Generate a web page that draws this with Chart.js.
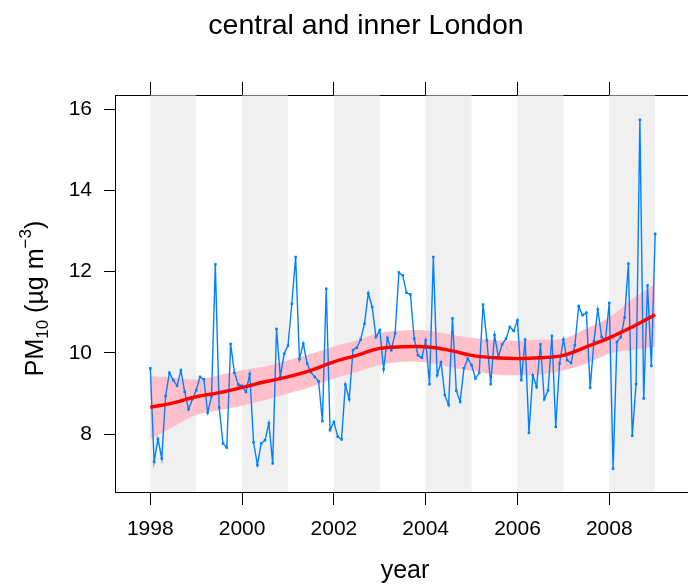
<!DOCTYPE html>
<html>
<head>
<meta charset="utf-8">
<script src="https://cdn.jsdelivr.net/npm/chart.js@4"></script>
<style>
  html, body { margin: 0; padding: 0; background: #fff; }
  #wrap { width: 688px; height: 586px; }
</style>
</head>
<body>
<div id="wrap"><canvas id="chart" width="688" height="586"></canvas></div>
<script>
// monthly mean PM10, Jan 1998 .. Jan 2009
const startYear = 1998;
const pm10Monthly = [
  9.62, 7.32, 7.88, 7.40, 8.94, 9.51, 9.33, 9.19, 9.57, 9.04, 8.61, 8.86,
  9.08, 9.41, 9.35, 8.53, 8.92, 12.18, 8.66, 7.77, 7.67, 10.22, 9.51, 9.22,
  9.19, 9.04, 9.48, 7.80, 7.24, 7.77, 7.85, 8.27, 7.28, 10.59, 9.41, 9.98,
  10.18, 11.21, 12.36, 9.85, 10.23, 9.74, 9.52, 9.41, 9.30, 8.32, 11.58, 8.10,
  8.30, 7.94, 7.87, 9.22, 8.86, 10.07, 10.13, 10.33, 10.72, 11.47, 11.13, 10.39,
  10.56, 9.60, 10.37, 10.07, 10.48, 11.98, 11.91, 11.48, 11.44, 10.35, 9.94, 9.88,
  10.31, 9.23, 12.36, 9.45, 9.77, 8.96, 8.72, 10.85, 9.07, 8.80, 9.62, 9.86,
  9.70, 9.37, 9.51, 11.19, 10.31, 9.23, 10.44, 9.90, 10.21, 10.35, 10.64, 10.54,
  10.80, 9.33, 10.33, 8.03, 9.45, 9.16, 10.21, 8.86, 9.08, 10.42, 8.18, 9.74,
  10.33, 9.82, 9.75, 10.19, 11.15, 10.93, 10.99, 9.14, 10.29, 11.07, 10.39, 10.33,
  11.23, 7.15, 10.27, 10.39, 10.87, 12.20, 7.96, 9.23, 15.74, 8.88, 11.66, 9.68,
  12.93
];

// smooth trend and its confidence band, read every half year
const trendYears = [1998, 1998.5, 1999, 1999.5, 2000, 2000.5, 2001, 2001.5, 2002, 2002.5,
  2003, 2003.5, 2004, 2004.5, 2005, 2005.5, 2006, 2006.5, 2007, 2007.5, 2008, 2008.5, 2009];
const trendFit = [8.66, 8.77, 8.92, 9.02, 9.15, 9.29, 9.41, 9.57, 9.78, 9.94,
  10.11, 10.15, 10.15, 10.07, 9.94, 9.88, 9.86, 9.88, 9.94, 10.15, 10.37, 10.64, 10.94];
const trendUpper = [9.43, 9.39, 9.35, 9.45, 9.57, 9.67, 9.82, 9.98, 10.16, 10.31,
  10.49, 10.55, 10.55, 10.46, 10.37, 10.31, 10.30, 10.33, 10.35, 10.60, 10.88, 11.32, 11.70];
const trendLower = [7.87, 8.18, 8.47, 8.59, 8.70, 8.84, 9.00, 9.16, 9.37, 9.53,
  9.70, 9.78, 9.77, 9.66, 9.56, 9.47, 9.45, 9.47, 9.57, 9.74, 9.98, 10.07, 10.15];

const xTicks = [1998, 2000, 2002, 2004, 2006, 2008];
const yTicks = [8, 10, 12, 14, 16];
const shadedYears = [1998, 2000, 2002, 2004, 2006, 2008];

const FONT = "'Liberation Sans', Arial, Helvetica, sans-serif";

const toPoints = (xs, ys) => xs.map((x, i) => ({ x: x, y: ys[i] }));

// alternate years shaded grey behind the data
const yearShade = {
  id: 'yearShade',
  beforeDatasetsDraw(chart) {
    const { ctx, chartArea, scales } = chart;
    ctx.save();
    ctx.fillStyle = '#f0f0f0';
    shadedYears.forEach(y0 => {
      const a = scales.x.getPixelForValue(y0);
      const b = scales.x.getPixelForValue(y0 + 1);
      ctx.fillRect(a, chartArea.top + 0.5, b - a, chartArea.bottom - chartArea.top - 1);
    });
    ctx.restore();
  }
};

// main title and y axis title (subscript / superscript)
const texts = {
  id: 'texts',
  afterDraw(chart) {
    const ctx = chart.ctx;
    ctx.save();
    ctx.fillStyle = '#000';
    ctx.textAlign = 'center';
    ctx.textBaseline = 'alphabetic';
    ctx.font = '28.5px ' + FONT;
    ctx.fillText('central and inner London', 366, 34);
    ctx.restore();

    const big = 25, small = 17;
    const parts = [
      { t: 'PM', size: big, dy: 0 },
      { t: '10', size: small, dy: 5 },
      { t: ' (\u00b5g m', size: big, dy: 0 },
      { t: '\u22123', size: small, dy: -12 },
      { t: ')', size: big, dy: 0 }
    ];
    let total = 0;
    parts.forEach(p => {
      ctx.font = p.size + 'px ' + FONT;
      p.w = ctx.measureText(p.t).width;
      total += p.w;
    });
    const area = chart.chartArea;
    const cy = (area.top + area.bottom) / 2 + 5;
    ctx.save();
    ctx.translate(43, cy);
    ctx.rotate(-Math.PI / 2);
    ctx.fillStyle = '#000';
    ctx.textBaseline = 'alphabetic';
    let x = -total / 2;
    parts.forEach(p => {
      ctx.font = p.size + 'px ' + FONT;
      ctx.fillText(p.t, x, p.dy);
      x += p.w;
    });
    ctx.restore();
  }
};

new Chart(document.getElementById('chart'), {
  type: 'line',
  data: {
    datasets: [
      {
        label: 'trend',
        data: toPoints(trendYears, trendFit),
        borderColor: '#ff0000',
        borderWidth: 3.4,
        pointRadius: 0,
        tension: 0.4,
        fill: false,
        order: 0
      },
      {
        label: 'PM10',
        data: pm10Monthly.map((v, i) => ({ x: startYear + i / 12, y: v })),
        borderColor: '#0080ff',
        backgroundColor: '#0080ff',
        borderWidth: 1.4,
        pointRadius: 0.8,
        pointStyle: 'rect',
        tension: 0,
        fill: false,
        order: 1
      },
      {
        label: 'lower',
        data: toPoints(trendYears, trendLower),
        borderWidth: 0,
        borderColor: 'rgba(0,0,0,0)',
        pointRadius: 0,
        tension: 0.4,
        fill: false,
        order: 2
      },
      {
        label: 'upper',
        data: toPoints(trendYears, trendUpper),
        borderWidth: 0,
        borderColor: 'rgba(0,0,0,0)',
        backgroundColor: '#ffc0cb',
        pointRadius: 0,
        tension: 0.4,
        fill: 2,
        order: 3
      }
    ]
  },
  options: {
    responsive: false,
    animation: false,
    layout: { autoPadding: false, padding: 0 },
    plugins: {
      legend: { display: false },
      tooltip: { enabled: false },
      title: { display: false }
    },
    scales: {
      x: {
        type: 'linear',
        position: 'bottom',
        min: 1997.231,
        max: 2009.715,
        afterBuildTicks: s => { s.ticks = xTicks.map(v => ({ value: v })); },
        afterFit: s => { s.height = 586 - 492; },
        ticks: {
          color: '#000',
          font: { family: FONT, size: 21 },
          padding: 12,
          maxRotation: 0,
          callback: v => String(v)
        },
        grid: { drawOnChartArea: false, drawTicks: true, tickLength: 13, color: '#000', lineWidth: 1 },
        border: { display: true, color: '#000', width: 1 }
      },
      xTop: {
        type: 'linear',
        position: 'top',
        min: 1997.231,
        max: 2009.715,
        afterBuildTicks: s => { s.ticks = xTicks.map(v => ({ value: v })); },
        afterFit: s => { s.height = 95; },
        ticks: { display: false },
        grid: { drawOnChartArea: false, drawTicks: true, tickLength: 13, color: '#000', lineWidth: 1 },
        border: { display: true, color: '#000', width: 1 }
      },
      y: {
        type: 'linear',
        position: 'left',
        min: 6.575,
        max: 16.35,
        afterBuildTicks: s => { s.ticks = yTicks.map(v => ({ value: v })); },
        afterFit: s => { s.width = 115; },
        ticks: {
          color: '#000',
          font: { family: FONT, size: 21 },
          padding: 12
        },
        grid: { drawOnChartArea: false, drawTicks: true, tickLength: 11, color: '#000', lineWidth: 1 },
        border: { display: true, color: '#000', width: 1 }
      }
    }
  },
  plugins: [yearShade, {
    id: 'xTitle',
    afterDraw(chart) {
      const ctx = chart.ctx;
      ctx.save();
      ctx.fillStyle = '#000';
      ctx.textAlign = 'center';
      ctx.textBaseline = 'alphabetic';
      ctx.font = '25px ' + FONT;
      ctx.fillText('year', 405, 578);
      ctx.restore();
    }
  }, texts]
});
</script>
</body>
</html>
